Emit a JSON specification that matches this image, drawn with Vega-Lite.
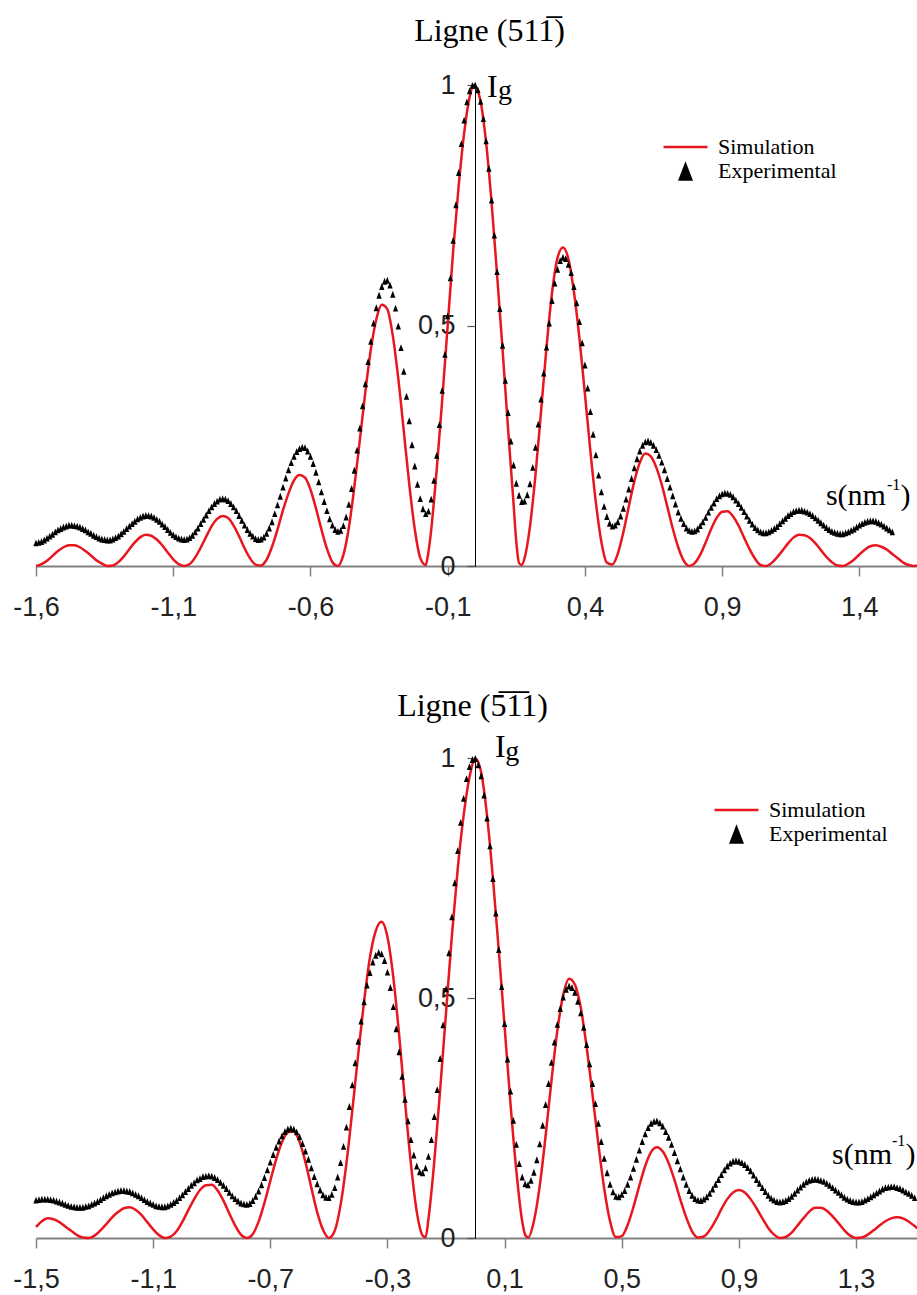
{
"$schema": "https://vega.github.io/schema/vega-lite/v6.json",
"background": "white",
"padding": {"left": 12, "top": 15, "right": 0, "bottom": 0},
"config": {"view": {"stroke": null}, "axis": {"grid": false}},
"spacing": 70,
"resolve": {"scale": {"color": "independent", "shape": "independent"}, "legend": {"color": "independent", "shape": "independent"}},
"datasets": {
"simA": [{"x":-1.6,"y":0},{"x":-1.58,"y":0.004},{"x":-1.56,"y":0.011},{"x":-1.54,"y":0.021},{"x":-1.52,"y":0.031},{"x":-1.5,"y":0.039},{"x":-1.48,"y":0.043},{"x":-1.46,"y":0.043},{"x":-1.44,"y":0.039},{"x":-1.42,"y":0.031},{"x":-1.4,"y":0.022},{"x":-1.38,"y":0.012},{"x":-1.36,"y":0.005},{"x":-1.34,"y":0},{"x":-1.32,"y":0.001},{"x":-1.3,"y":0.008},{"x":-1.28,"y":0.02},{"x":-1.26,"y":0.035},{"x":-1.24,"y":0.049},{"x":-1.22,"y":0.06},{"x":-1.2,"y":0.065},{"x":-1.18,"y":0.063},{"x":-1.16,"y":0.055},{"x":-1.14,"y":0.043},{"x":-1.12,"y":0.028},{"x":-1.1,"y":0.014},{"x":-1.08,"y":0.004},{"x":-1.06,"y":0},{"x":-1.04,"y":0.004},{"x":-1.02,"y":0.018},{"x":-1,"y":0.038},{"x":-0.98,"y":0.061},{"x":-0.96,"y":0.083},{"x":-0.94,"y":0.098},{"x":-0.92,"y":0.104},{"x":-0.9,"y":0.1},{"x":-0.88,"y":0.084},{"x":-0.86,"y":0.062},{"x":-0.84,"y":0.037},{"x":-0.82,"y":0.016},{"x":-0.8,"y":0.003},{"x":-0.78,"y":0.001},{"x":-0.76,"y":0.013},{"x":-0.74,"y":0.04},{"x":-0.72,"y":0.076},{"x":-0.7,"y":0.116},{"x":-0.68,"y":0.151},{"x":-0.66,"y":0.178},{"x":-0.64,"y":0.189},{"x":-0.62,"y":0.184},{"x":-0.6,"y":0.159},{"x":-0.58,"y":0.12},{"x":-0.56,"y":0.076},{"x":-0.54,"y":0.036},{"x":-0.52,"y":0.008},{"x":-0.5,"y":0},{"x":-0.48,"y":0.023},{"x":-0.46,"y":0.08},{"x":-0.44,"y":0.165},{"x":-0.42,"y":0.262},{"x":-0.4,"y":0.362},{"x":-0.38,"y":0.45},{"x":-0.36,"y":0.513},{"x":-0.34,"y":0.543},{"x":-0.32,"y":0.534},{"x":-0.3,"y":0.479},{"x":-0.28,"y":0.39},{"x":-0.26,"y":0.281},{"x":-0.24,"y":0.17},{"x":-0.22,"y":0.077},{"x":-0.2,"y":0.017},{"x":-0.18,"y":0.002},{"x":-0.17,"y":0.03},{"x":-0.16,"y":0.075},{"x":-0.15,"y":0.135},{"x":-0.14,"y":0.2},{"x":-0.12,"y":0.345},{"x":-0.1,"y":0.5},{"x":-0.08,"y":0.655},{"x":-0.06,"y":0.79},{"x":-0.04,"y":0.9},{"x":-0.02,"y":0.975},{"x":-0.005,"y":1},{"x":0.02,"y":0.965},{"x":0.04,"y":0.88},{"x":0.06,"y":0.755},{"x":0.08,"y":0.605},{"x":0.1,"y":0.45},{"x":0.12,"y":0.285},{"x":0.14,"y":0.13},{"x":0.15,"y":0.05},{"x":0.16,"y":0.006},{"x":0.17,"y":0.002},{"x":0.18,"y":0.016},{"x":0.2,"y":0.083},{"x":0.22,"y":0.19},{"x":0.24,"y":0.32},{"x":0.26,"y":0.454},{"x":0.28,"y":0.567},{"x":0.3,"y":0.64},{"x":0.32,"y":0.662},{"x":0.34,"y":0.638},{"x":0.36,"y":0.57},{"x":0.38,"y":0.474},{"x":0.4,"y":0.358},{"x":0.42,"y":0.239},{"x":0.44,"y":0.132},{"x":0.46,"y":0.05},{"x":0.48,"y":0.007},{"x":0.5,"y":0.003},{"x":0.52,"y":0.026},{"x":0.54,"y":0.07},{"x":0.56,"y":0.124},{"x":0.58,"y":0.176},{"x":0.6,"y":0.215},{"x":0.62,"y":0.234},{"x":0.64,"y":0.228},{"x":0.66,"y":0.205},{"x":0.68,"y":0.169},{"x":0.7,"y":0.124},{"x":0.72,"y":0.078},{"x":0.74,"y":0.039},{"x":0.76,"y":0.011},{"x":0.78,"y":0},{"x":0.8,"y":0.006},{"x":0.82,"y":0.023},{"x":0.84,"y":0.049},{"x":0.86,"y":0.077},{"x":0.88,"y":0.1},{"x":0.9,"y":0.113},{"x":0.92,"y":0.114},{"x":0.94,"y":0.103},{"x":0.96,"y":0.084},{"x":0.98,"y":0.059},{"x":1,"y":0.035},{"x":1.02,"y":0.015},{"x":1.04,"y":0.002},{"x":1.06,"y":0},{"x":1.08,"y":0.006},{"x":1.1,"y":0.018},{"x":1.12,"y":0.032},{"x":1.14,"y":0.047},{"x":1.16,"y":0.059},{"x":1.18,"y":0.065},{"x":1.2,"y":0.064},{"x":1.22,"y":0.058},{"x":1.24,"y":0.047},{"x":1.26,"y":0.033},{"x":1.28,"y":0.019},{"x":1.3,"y":0.008},{"x":1.32,"y":0.001},{"x":1.34,"y":0},{"x":1.36,"y":0.005},{"x":1.38,"y":0.013},{"x":1.4,"y":0.024},{"x":1.42,"y":0.034},{"x":1.44,"y":0.041},{"x":1.46,"y":0.043},{"x":1.48,"y":0.04},{"x":1.5,"y":0.034},{"x":1.52,"y":0.025},{"x":1.54,"y":0.016},{"x":1.56,"y":0.007},{"x":1.58,"y":0.002},{"x":1.6,"y":0},{"x":1.61,"y":0.001}],
"expA": [{"x":-1.6,"y":0.048},{"x":-1.59,"y":0.049},{"x":-1.58,"y":0.051},{"x":-1.57,"y":0.054},{"x":-1.56,"y":0.058},{"x":-1.55,"y":0.062},{"x":-1.54,"y":0.066},{"x":-1.53,"y":0.071},{"x":-1.52,"y":0.075},{"x":-1.51,"y":0.078},{"x":-1.5,"y":0.081},{"x":-1.49,"y":0.083},{"x":-1.48,"y":0.085},{"x":-1.47,"y":0.085},{"x":-1.46,"y":0.084},{"x":-1.45,"y":0.083},{"x":-1.44,"y":0.081},{"x":-1.43,"y":0.078},{"x":-1.42,"y":0.075},{"x":-1.41,"y":0.071},{"x":-1.4,"y":0.068},{"x":-1.39,"y":0.064},{"x":-1.38,"y":0.061},{"x":-1.37,"y":0.058},{"x":-1.36,"y":0.056},{"x":-1.35,"y":0.055},{"x":-1.34,"y":0.054},{"x":-1.33,"y":0.054},{"x":-1.32,"y":0.056},{"x":-1.31,"y":0.059},{"x":-1.3,"y":0.062},{"x":-1.29,"y":0.067},{"x":-1.28,"y":0.072},{"x":-1.27,"y":0.078},{"x":-1.26,"y":0.083},{"x":-1.25,"y":0.088},{"x":-1.24,"y":0.093},{"x":-1.23,"y":0.098},{"x":-1.22,"y":0.101},{"x":-1.21,"y":0.104},{"x":-1.2,"y":0.105},{"x":-1.19,"y":0.105},{"x":-1.18,"y":0.104},{"x":-1.17,"y":0.101},{"x":-1.16,"y":0.097},{"x":-1.15,"y":0.093},{"x":-1.14,"y":0.087},{"x":-1.13,"y":0.082},{"x":-1.12,"y":0.076},{"x":-1.11,"y":0.07},{"x":-1.1,"y":0.065},{"x":-1.09,"y":0.061},{"x":-1.08,"y":0.058},{"x":-1.07,"y":0.056},{"x":-1.06,"y":0.055},{"x":-1.05,"y":0.056},{"x":-1.04,"y":0.059},{"x":-1.03,"y":0.064},{"x":-1.02,"y":0.071},{"x":-1.01,"y":0.079},{"x":-1,"y":0.088},{"x":-0.99,"y":0.097},{"x":-0.98,"y":0.106},{"x":-0.97,"y":0.115},{"x":-0.96,"y":0.123},{"x":-0.95,"y":0.13},{"x":-0.94,"y":0.135},{"x":-0.93,"y":0.139},{"x":-0.92,"y":0.14},{"x":-0.91,"y":0.139},{"x":-0.9,"y":0.136},{"x":-0.89,"y":0.13},{"x":-0.88,"y":0.123},{"x":-0.87,"y":0.115},{"x":-0.86,"y":0.105},{"x":-0.85,"y":0.095},{"x":-0.84,"y":0.085},{"x":-0.83,"y":0.076},{"x":-0.82,"y":0.068},{"x":-0.81,"y":0.062},{"x":-0.8,"y":0.057},{"x":-0.79,"y":0.055},{"x":-0.78,"y":0.056},{"x":-0.77,"y":0.06},{"x":-0.76,"y":0.068},{"x":-0.75,"y":0.079},{"x":-0.74,"y":0.092},{"x":-0.73,"y":0.109},{"x":-0.72,"y":0.127},{"x":-0.71,"y":0.145},{"x":-0.7,"y":0.164},{"x":-0.69,"y":0.183},{"x":-0.68,"y":0.2},{"x":-0.67,"y":0.215},{"x":-0.66,"y":0.228},{"x":-0.65,"y":0.238},{"x":-0.64,"y":0.244},{"x":-0.63,"y":0.247},{"x":-0.62,"y":0.246},{"x":-0.61,"y":0.239},{"x":-0.6,"y":0.228},{"x":-0.59,"y":0.213},{"x":-0.58,"y":0.195},{"x":-0.57,"y":0.175},{"x":-0.56,"y":0.154},{"x":-0.55,"y":0.134},{"x":-0.54,"y":0.115},{"x":-0.53,"y":0.098},{"x":-0.52,"y":0.085},{"x":-0.51,"y":0.076},{"x":-0.5,"y":0.072},{"x":-0.49,"y":0.074},{"x":-0.48,"y":0.084},{"x":-0.47,"y":0.102},{"x":-0.46,"y":0.128},{"x":-0.45,"y":0.161},{"x":-0.44,"y":0.199},{"x":-0.43,"y":0.241},{"x":-0.42,"y":0.287},{"x":-0.41,"y":0.333},{"x":-0.4,"y":0.379},{"x":-0.39,"y":0.425},{"x":-0.38,"y":0.467},{"x":-0.37,"y":0.505},{"x":-0.36,"y":0.537},{"x":-0.35,"y":0.563},{"x":-0.34,"y":0.581},{"x":-0.33,"y":0.592},{"x":-0.32,"y":0.594},{"x":-0.31,"y":0.584},{"x":-0.3,"y":0.565},{"x":-0.29,"y":0.536},{"x":-0.28,"y":0.499},{"x":-0.27,"y":0.454},{"x":-0.26,"y":0.405},{"x":-0.25,"y":0.353},{"x":-0.24,"y":0.302},{"x":-0.23,"y":0.252},{"x":-0.22,"y":0.208},{"x":-0.21,"y":0.17},{"x":-0.2,"y":0.14},{"x":-0.19,"y":0.119},{"x":-0.18,"y":0.109},{"x":-0.17,"y":0.114},{"x":-0.16,"y":0.139},{"x":-0.15,"y":0.178},{"x":-0.14,"y":0.23},{"x":-0.13,"y":0.294},{"x":-0.12,"y":0.365},{"x":-0.11,"y":0.44},{"x":-0.1,"y":0.52},{"x":-0.09,"y":0.599},{"x":-0.08,"y":0.677},{"x":-0.07,"y":0.751},{"x":-0.06,"y":0.818},{"x":-0.05,"y":0.878},{"x":-0.04,"y":0.927},{"x":-0.03,"y":0.965},{"x":-0.02,"y":0.988},{"x":-0.01,"y":0.999},{"x":0,"y":1},{"x":0.01,"y":0.99},{"x":0.02,"y":0.966},{"x":0.03,"y":0.93},{"x":0.04,"y":0.884},{"x":0.05,"y":0.827},{"x":0.06,"y":0.761},{"x":0.07,"y":0.688},{"x":0.08,"y":0.612},{"x":0.09,"y":0.535},{"x":0.1,"y":0.459},{"x":0.11,"y":0.386},{"x":0.12,"y":0.319},{"x":0.13,"y":0.26},{"x":0.14,"y":0.21},{"x":0.15,"y":0.172},{"x":0.16,"y":0.147},{"x":0.17,"y":0.134},{"x":0.18,"y":0.135},{"x":0.19,"y":0.148},{"x":0.2,"y":0.171},{"x":0.21,"y":0.205},{"x":0.22,"y":0.247},{"x":0.23,"y":0.295},{"x":0.24,"y":0.347},{"x":0.25,"y":0.401},{"x":0.26,"y":0.455},{"x":0.27,"y":0.505},{"x":0.28,"y":0.552},{"x":0.29,"y":0.588},{"x":0.3,"y":0.617},{"x":0.31,"y":0.635},{"x":0.32,"y":0.642},{"x":0.33,"y":0.639},{"x":0.34,"y":0.627},{"x":0.35,"y":0.61},{"x":0.36,"y":0.581},{"x":0.37,"y":0.547},{"x":0.38,"y":0.508},{"x":0.39,"y":0.464},{"x":0.4,"y":0.418},{"x":0.41,"y":0.37},{"x":0.42,"y":0.321},{"x":0.43,"y":0.274},{"x":0.44,"y":0.231},{"x":0.45,"y":0.189},{"x":0.46,"y":0.154},{"x":0.47,"y":0.124},{"x":0.48,"y":0.103},{"x":0.49,"y":0.089},{"x":0.5,"y":0.083},{"x":0.51,"y":0.085},{"x":0.52,"y":0.092},{"x":0.53,"y":0.104},{"x":0.54,"y":0.12},{"x":0.55,"y":0.139},{"x":0.56,"y":0.16},{"x":0.57,"y":0.182},{"x":0.58,"y":0.204},{"x":0.59,"y":0.223},{"x":0.6,"y":0.239},{"x":0.61,"y":0.251},{"x":0.62,"y":0.258},{"x":0.63,"y":0.26},{"x":0.64,"y":0.257},{"x":0.65,"y":0.251},{"x":0.66,"y":0.242},{"x":0.67,"y":0.23},{"x":0.68,"y":0.216},{"x":0.69,"y":0.2},{"x":0.7,"y":0.182},{"x":0.71,"y":0.164},{"x":0.72,"y":0.146},{"x":0.73,"y":0.129},{"x":0.74,"y":0.112},{"x":0.75,"y":0.099},{"x":0.76,"y":0.088},{"x":0.77,"y":0.079},{"x":0.78,"y":0.074},{"x":0.79,"y":0.072},{"x":0.8,"y":0.073},{"x":0.81,"y":0.077},{"x":0.82,"y":0.084},{"x":0.83,"y":0.092},{"x":0.84,"y":0.101},{"x":0.85,"y":0.112},{"x":0.86,"y":0.122},{"x":0.87,"y":0.131},{"x":0.88,"y":0.14},{"x":0.89,"y":0.146},{"x":0.9,"y":0.15},{"x":0.91,"y":0.152},{"x":0.92,"y":0.151},{"x":0.93,"y":0.149},{"x":0.94,"y":0.144},{"x":0.95,"y":0.137},{"x":0.96,"y":0.13},{"x":0.97,"y":0.122},{"x":0.98,"y":0.113},{"x":0.99,"y":0.104},{"x":1,"y":0.095},{"x":1.01,"y":0.087},{"x":1.02,"y":0.08},{"x":1.03,"y":0.075},{"x":1.04,"y":0.071},{"x":1.05,"y":0.069},{"x":1.06,"y":0.069},{"x":1.07,"y":0.071},{"x":1.08,"y":0.074},{"x":1.09,"y":0.078},{"x":1.1,"y":0.082},{"x":1.11,"y":0.088},{"x":1.12,"y":0.094},{"x":1.13,"y":0.099},{"x":1.14,"y":0.105},{"x":1.15,"y":0.109},{"x":1.16,"y":0.113},{"x":1.17,"y":0.115},{"x":1.18,"y":0.116},{"x":1.19,"y":0.116},{"x":1.2,"y":0.114},{"x":1.21,"y":0.112},{"x":1.22,"y":0.109},{"x":1.23,"y":0.105},{"x":1.24,"y":0.1},{"x":1.25,"y":0.095},{"x":1.26,"y":0.09},{"x":1.27,"y":0.085},{"x":1.28,"y":0.08},{"x":1.29,"y":0.076},{"x":1.3,"y":0.072},{"x":1.31,"y":0.07},{"x":1.32,"y":0.068},{"x":1.33,"y":0.067},{"x":1.34,"y":0.067},{"x":1.35,"y":0.069},{"x":1.36,"y":0.071},{"x":1.37,"y":0.074},{"x":1.38,"y":0.077},{"x":1.39,"y":0.081},{"x":1.4,"y":0.085},{"x":1.41,"y":0.088},{"x":1.42,"y":0.091},{"x":1.43,"y":0.093},{"x":1.44,"y":0.094},{"x":1.45,"y":0.094},{"x":1.46,"y":0.093},{"x":1.47,"y":0.09},{"x":1.48,"y":0.087},{"x":1.49,"y":0.083},{"x":1.5,"y":0.079},{"x":1.51,"y":0.075},{"x":1.52,"y":0.071}],
"simB": [{"x":-1.5,"y":0.023},{"x":-1.48,"y":0.035},{"x":-1.46,"y":0.041},{"x":-1.44,"y":0.039},{"x":-1.42,"y":0.033},{"x":-1.4,"y":0.024},{"x":-1.38,"y":0.015},{"x":-1.36,"y":0.006},{"x":-1.34,"y":0.001},{"x":-1.32,"y":0},{"x":-1.3,"y":0.005},{"x":-1.28,"y":0.016},{"x":-1.26,"y":0.029},{"x":-1.24,"y":0.043},{"x":-1.22,"y":0.054},{"x":-1.2,"y":0.062},{"x":-1.18,"y":0.064},{"x":-1.16,"y":0.059},{"x":-1.14,"y":0.048},{"x":-1.12,"y":0.033},{"x":-1.1,"y":0.018},{"x":-1.08,"y":0.006},{"x":-1.06,"y":0},{"x":-1.04,"y":0.003},{"x":-1.02,"y":0.014},{"x":-1,"y":0.034},{"x":-0.98,"y":0.058},{"x":-0.96,"y":0.081},{"x":-0.94,"y":0.1},{"x":-0.92,"y":0.11},{"x":-0.9,"y":0.111},{"x":-0.88,"y":0.099},{"x":-0.86,"y":0.078},{"x":-0.84,"y":0.051},{"x":-0.82,"y":0.026},{"x":-0.8,"y":0.007},{"x":-0.78,"y":0},{"x":-0.76,"y":0.008},{"x":-0.74,"y":0.034},{"x":-0.72,"y":0.073},{"x":-0.7,"y":0.119},{"x":-0.68,"y":0.164},{"x":-0.66,"y":0.2},{"x":-0.64,"y":0.22},{"x":-0.62,"y":0.222},{"x":-0.6,"y":0.2},{"x":-0.58,"y":0.158},{"x":-0.56,"y":0.105},{"x":-0.54,"y":0.054},{"x":-0.52,"y":0.017},{"x":-0.5,"y":0},{"x":-0.48,"y":0.015},{"x":-0.46,"y":0.069},{"x":-0.44,"y":0.156},{"x":-0.42,"y":0.266},{"x":-0.4,"y":0.382},{"x":-0.38,"y":0.492},{"x":-0.36,"y":0.584},{"x":-0.34,"y":0.64},{"x":-0.32,"y":0.659},{"x":-0.3,"y":0.627},{"x":-0.28,"y":0.543},{"x":-0.26,"y":0.422},{"x":-0.24,"y":0.284},{"x":-0.22,"y":0.155},{"x":-0.2,"y":0.055},{"x":-0.18,"y":0.005},{"x":-0.17,"y":0.001},{"x":-0.16,"y":0.04},{"x":-0.14,"y":0.16},{"x":-0.12,"y":0.31},{"x":-0.1,"y":0.47},{"x":-0.08,"y":0.63},{"x":-0.06,"y":0.77},{"x":-0.04,"y":0.88},{"x":-0.02,"y":0.96},{"x":0,"y":0.999},{"x":0.02,"y":0.97},{"x":0.04,"y":0.88},{"x":0.06,"y":0.75},{"x":0.08,"y":0.6},{"x":0.1,"y":0.44},{"x":0.12,"y":0.28},{"x":0.14,"y":0.14},{"x":0.16,"y":0.035},{"x":0.17,"y":0.007},{"x":0.18,"y":0.001},{"x":0.2,"y":0.035},{"x":0.22,"y":0.109},{"x":0.24,"y":0.213},{"x":0.26,"y":0.328},{"x":0.28,"y":0.432},{"x":0.3,"y":0.506},{"x":0.32,"y":0.54},{"x":0.34,"y":0.528},{"x":0.36,"y":0.48},{"x":0.38,"y":0.398},{"x":0.4,"y":0.299},{"x":0.42,"y":0.196},{"x":0.44,"y":0.103},{"x":0.46,"y":0.035},{"x":0.48,"y":0.002},{"x":0.5,"y":0.004},{"x":0.52,"y":0.027},{"x":0.54,"y":0.065},{"x":0.56,"y":0.109},{"x":0.58,"y":0.15},{"x":0.6,"y":0.179},{"x":0.62,"y":0.189},{"x":0.64,"y":0.18},{"x":0.66,"y":0.156},{"x":0.68,"y":0.121},{"x":0.7,"y":0.08},{"x":0.72,"y":0.043},{"x":0.74,"y":0.014},{"x":0.76,"y":0.001},{"x":0.78,"y":0.003},{"x":0.8,"y":0.016},{"x":0.82,"y":0.036},{"x":0.84,"y":0.06},{"x":0.86,"y":0.081},{"x":0.88,"y":0.095},{"x":0.9,"y":0.1},{"x":0.92,"y":0.095},{"x":0.94,"y":0.081},{"x":0.96,"y":0.062},{"x":0.98,"y":0.041},{"x":1,"y":0.021},{"x":1.02,"y":0.007},{"x":1.04,"y":0},{"x":1.06,"y":0.002},{"x":1.08,"y":0.011},{"x":1.1,"y":0.026},{"x":1.12,"y":0.041},{"x":1.14,"y":0.055},{"x":1.16,"y":0.063},{"x":1.18,"y":0.063},{"x":1.2,"y":0.057},{"x":1.22,"y":0.045},{"x":1.24,"y":0.031},{"x":1.26,"y":0.016},{"x":1.28,"y":0.005},{"x":1.3,"y":0},{"x":1.32,"y":0.001},{"x":1.34,"y":0.007},{"x":1.36,"y":0.016},{"x":1.38,"y":0.026},{"x":1.4,"y":0.035},{"x":1.42,"y":0.041},{"x":1.44,"y":0.043},{"x":1.46,"y":0.041},{"x":1.48,"y":0.034},{"x":1.5,"y":0.025},{"x":1.51,"y":0.02}],
"expB": [{"x":-1.5,"y":0.079},{"x":-1.49,"y":0.08},{"x":-1.48,"y":0.081},{"x":-1.47,"y":0.081},{"x":-1.46,"y":0.081},{"x":-1.45,"y":0.08},{"x":-1.44,"y":0.079},{"x":-1.43,"y":0.077},{"x":-1.42,"y":0.075},{"x":-1.41,"y":0.073},{"x":-1.4,"y":0.07},{"x":-1.39,"y":0.068},{"x":-1.38,"y":0.066},{"x":-1.37,"y":0.065},{"x":-1.36,"y":0.064},{"x":-1.35,"y":0.064},{"x":-1.34,"y":0.064},{"x":-1.33,"y":0.066},{"x":-1.32,"y":0.067},{"x":-1.31,"y":0.07},{"x":-1.3,"y":0.073},{"x":-1.29,"y":0.076},{"x":-1.28,"y":0.08},{"x":-1.27,"y":0.084},{"x":-1.26,"y":0.088},{"x":-1.25,"y":0.091},{"x":-1.24,"y":0.094},{"x":-1.23,"y":0.096},{"x":-1.22,"y":0.098},{"x":-1.21,"y":0.099},{"x":-1.2,"y":0.099},{"x":-1.19,"y":0.098},{"x":-1.18,"y":0.097},{"x":-1.17,"y":0.094},{"x":-1.16,"y":0.091},{"x":-1.15,"y":0.088},{"x":-1.14,"y":0.084},{"x":-1.13,"y":0.08},{"x":-1.12,"y":0.076},{"x":-1.11,"y":0.073},{"x":-1.1,"y":0.07},{"x":-1.09,"y":0.067},{"x":-1.08,"y":0.066},{"x":-1.07,"y":0.065},{"x":-1.06,"y":0.065},{"x":-1.05,"y":0.067},{"x":-1.04,"y":0.07},{"x":-1.03,"y":0.074},{"x":-1.02,"y":0.078},{"x":-1.01,"y":0.084},{"x":-1,"y":0.09},{"x":-0.99,"y":0.097},{"x":-0.98,"y":0.103},{"x":-0.97,"y":0.11},{"x":-0.96,"y":0.115},{"x":-0.95,"y":0.121},{"x":-0.94,"y":0.124},{"x":-0.93,"y":0.128},{"x":-0.92,"y":0.129},{"x":-0.91,"y":0.13},{"x":-0.9,"y":0.129},{"x":-0.89,"y":0.126},{"x":-0.88,"y":0.122},{"x":-0.87,"y":0.116},{"x":-0.86,"y":0.11},{"x":-0.85,"y":0.103},{"x":-0.84,"y":0.095},{"x":-0.83,"y":0.088},{"x":-0.82,"y":0.082},{"x":-0.81,"y":0.077},{"x":-0.8,"y":0.073},{"x":-0.79,"y":0.071},{"x":-0.78,"y":0.07},{"x":-0.77,"y":0.072},{"x":-0.76,"y":0.078},{"x":-0.75,"y":0.087},{"x":-0.74,"y":0.098},{"x":-0.73,"y":0.111},{"x":-0.72,"y":0.126},{"x":-0.71,"y":0.142},{"x":-0.7,"y":0.158},{"x":-0.69,"y":0.174},{"x":-0.68,"y":0.189},{"x":-0.67,"y":0.202},{"x":-0.66,"y":0.213},{"x":-0.65,"y":0.222},{"x":-0.64,"y":0.227},{"x":-0.63,"y":0.229},{"x":-0.62,"y":0.227},{"x":-0.61,"y":0.221},{"x":-0.6,"y":0.211},{"x":-0.59,"y":0.197},{"x":-0.58,"y":0.181},{"x":-0.57,"y":0.164},{"x":-0.56,"y":0.146},{"x":-0.55,"y":0.128},{"x":-0.54,"y":0.113},{"x":-0.53,"y":0.1},{"x":-0.52,"y":0.09},{"x":-0.51,"y":0.085},{"x":-0.5,"y":0.084},{"x":-0.49,"y":0.091},{"x":-0.48,"y":0.105},{"x":-0.47,"y":0.127},{"x":-0.46,"y":0.157},{"x":-0.45,"y":0.191},{"x":-0.44,"y":0.231},{"x":-0.43,"y":0.274},{"x":-0.42,"y":0.319},{"x":-0.41,"y":0.365},{"x":-0.4,"y":0.41},{"x":-0.39,"y":0.452},{"x":-0.38,"y":0.492},{"x":-0.37,"y":0.527},{"x":-0.36,"y":0.553},{"x":-0.35,"y":0.575},{"x":-0.34,"y":0.589},{"x":-0.33,"y":0.595},{"x":-0.32,"y":0.592},{"x":-0.31,"y":0.578},{"x":-0.3,"y":0.554},{"x":-0.29,"y":0.522},{"x":-0.28,"y":0.482},{"x":-0.27,"y":0.436},{"x":-0.26,"y":0.388},{"x":-0.25,"y":0.337},{"x":-0.24,"y":0.289},{"x":-0.23,"y":0.244},{"x":-0.22,"y":0.205},{"x":-0.21,"y":0.173},{"x":-0.2,"y":0.15},{"x":-0.19,"y":0.138},{"x":-0.18,"y":0.136},{"x":-0.17,"y":0.146},{"x":-0.16,"y":0.17},{"x":-0.15,"y":0.205},{"x":-0.14,"y":0.253},{"x":-0.13,"y":0.309},{"x":-0.12,"y":0.374},{"x":-0.11,"y":0.444},{"x":-0.1,"y":0.519},{"x":-0.09,"y":0.594},{"x":-0.08,"y":0.669},{"x":-0.07,"y":0.74},{"x":-0.06,"y":0.807},{"x":-0.05,"y":0.866},{"x":-0.04,"y":0.916},{"x":-0.03,"y":0.957},{"x":-0.02,"y":0.982},{"x":-0.01,"y":0.997},{"x":0,"y":0.999},{"x":0.01,"y":0.986},{"x":0.02,"y":0.963},{"x":0.03,"y":0.923},{"x":0.04,"y":0.875},{"x":0.05,"y":0.817},{"x":0.06,"y":0.749},{"x":0.07,"y":0.677},{"x":0.08,"y":0.601},{"x":0.09,"y":0.524},{"x":0.1,"y":0.447},{"x":0.11,"y":0.373},{"x":0.12,"y":0.306},{"x":0.13,"y":0.245},{"x":0.14,"y":0.195},{"x":0.15,"y":0.155},{"x":0.16,"y":0.127},{"x":0.17,"y":0.113},{"x":0.18,"y":0.111},{"x":0.19,"y":0.12},{"x":0.2,"y":0.137},{"x":0.21,"y":0.163},{"x":0.22,"y":0.196},{"x":0.23,"y":0.235},{"x":0.24,"y":0.278},{"x":0.25,"y":0.322},{"x":0.26,"y":0.366},{"x":0.27,"y":0.408},{"x":0.28,"y":0.445},{"x":0.29,"y":0.478},{"x":0.3,"y":0.502},{"x":0.31,"y":0.518},{"x":0.32,"y":0.525},{"x":0.33,"y":0.522},{"x":0.34,"y":0.512},{"x":0.35,"y":0.493},{"x":0.36,"y":0.469},{"x":0.37,"y":0.439},{"x":0.38,"y":0.403},{"x":0.39,"y":0.363},{"x":0.4,"y":0.322},{"x":0.41,"y":0.28},{"x":0.42,"y":0.239},{"x":0.43,"y":0.201},{"x":0.44,"y":0.166},{"x":0.45,"y":0.136},{"x":0.46,"y":0.112},{"x":0.47,"y":0.096},{"x":0.48,"y":0.087},{"x":0.49,"y":0.086},{"x":0.5,"y":0.091},{"x":0.51,"y":0.099},{"x":0.52,"y":0.112},{"x":0.53,"y":0.127},{"x":0.54,"y":0.145},{"x":0.55,"y":0.164},{"x":0.56,"y":0.183},{"x":0.57,"y":0.201},{"x":0.58,"y":0.217},{"x":0.59,"y":0.23},{"x":0.6,"y":0.239},{"x":0.61,"y":0.243},{"x":0.62,"y":0.244},{"x":0.63,"y":0.24},{"x":0.64,"y":0.233},{"x":0.65,"y":0.222},{"x":0.66,"y":0.21},{"x":0.67,"y":0.195},{"x":0.68,"y":0.178},{"x":0.69,"y":0.161},{"x":0.7,"y":0.144},{"x":0.71,"y":0.127},{"x":0.72,"y":0.112},{"x":0.73,"y":0.099},{"x":0.74,"y":0.089},{"x":0.75,"y":0.082},{"x":0.76,"y":0.079},{"x":0.77,"y":0.078},{"x":0.78,"y":0.081},{"x":0.79,"y":0.086},{"x":0.8,"y":0.093},{"x":0.81,"y":0.102},{"x":0.82,"y":0.112},{"x":0.83,"y":0.122},{"x":0.84,"y":0.132},{"x":0.85,"y":0.142},{"x":0.86,"y":0.15},{"x":0.87,"y":0.156},{"x":0.88,"y":0.16},{"x":0.89,"y":0.161},{"x":0.9,"y":0.16},{"x":0.91,"y":0.157},{"x":0.92,"y":0.153},{"x":0.93,"y":0.147},{"x":0.94,"y":0.14},{"x":0.95,"y":0.131},{"x":0.96,"y":0.122},{"x":0.97,"y":0.114},{"x":0.98,"y":0.105},{"x":0.99,"y":0.097},{"x":1,"y":0.089},{"x":1.01,"y":0.083},{"x":1.02,"y":0.079},{"x":1.03,"y":0.076},{"x":1.04,"y":0.075},{"x":1.05,"y":0.076},{"x":1.06,"y":0.078},{"x":1.07,"y":0.082},{"x":1.08,"y":0.087},{"x":1.09,"y":0.093},{"x":1.1,"y":0.1},{"x":1.11,"y":0.106},{"x":1.12,"y":0.112},{"x":1.13,"y":0.117},{"x":1.14,"y":0.12},{"x":1.15,"y":0.122},{"x":1.16,"y":0.123},{"x":1.17,"y":0.122},{"x":1.18,"y":0.12},{"x":1.19,"y":0.118},{"x":1.2,"y":0.114},{"x":1.21,"y":0.11},{"x":1.22,"y":0.105},{"x":1.23,"y":0.1},{"x":1.24,"y":0.095},{"x":1.25,"y":0.09},{"x":1.26,"y":0.085},{"x":1.27,"y":0.081},{"x":1.28,"y":0.078},{"x":1.29,"y":0.076},{"x":1.3,"y":0.075},{"x":1.31,"y":0.075},{"x":1.32,"y":0.076},{"x":1.33,"y":0.079},{"x":1.34,"y":0.082},{"x":1.35,"y":0.086},{"x":1.36,"y":0.09},{"x":1.37,"y":0.094},{"x":1.38,"y":0.098},{"x":1.39,"y":0.102},{"x":1.4,"y":0.105},{"x":1.41,"y":0.106},{"x":1.42,"y":0.107},{"x":1.43,"y":0.107},{"x":1.44,"y":0.105},{"x":1.45,"y":0.103},{"x":1.46,"y":0.1},{"x":1.47,"y":0.096},{"x":1.48,"y":0.093},{"x":1.49,"y":0.089},{"x":1.5,"y":0.084}]
},
"vconcat": [
{
"width": 881, "height": 481,
"title": {"text": "Ligne (511\u0305)", "font": "Liberation Serif", "fontSize": 32, "fontWeight": "normal", "color": "black", "anchor": "middle", "frame": "group", "offset": 23, "dx": 13},
"layer": [
{"data": {"name": "simA"}, "mark": {"type": "line", "color": "#e8161e", "strokeWidth": 2.5, "interpolate": "monotone"},
 "encoding": {
  "x": {"field": "x", "type": "quantitative", "scale": {"domain": [-1.6, 1.61], "nice": false, "zero": false},
        "axis": {"values": [-1.6, -1.1, -0.6, -0.1, 0.4, 0.9, 1.4], "labelExpr": "(datum.value < 0 ? '-' : '') + replace(format(abs(datum.value), '.1f'), '.', ',')", "title": null, "grid": false, "domainColor": "#808080", "domainWidth": 2, "tickColor": "#808080", "tickWidth": 1.5, "tickSize": 10, "labelFont": "Liberation Sans", "labelFontSize": 27, "labelColor": "#222222", "labelPadding": 18, "labelFlush": false, "labelOverlap": false}},
  "y": {"field": "y", "type": "quantitative", "scale": {"domain": [0, 1], "nice": false},
        "axis": {"values": [0, 0.5, 1], "offset": -439, "labelExpr": "replace(format(datum.value, '~g'), '.', ',')", "title": null, "grid": false, "domainColor": "black", "domainWidth": 1, "tickColor": "#555555", "tickWidth": 1.2, "tickSize": 8, "labelFont": "Liberation Sans", "labelFontSize": 27, "labelColor": "#222222", "labelPadding": 12, "labelOverlap": false, "labelFlush": false}}
 }},
{"data": {"name": "expA"}, "mark": {"type": "point", "filled": true, "size": 28, "opacity": 1, "strokeWidth": 0},
 "encoding": {
  "x": {"field": "x", "type": "quantitative"},
  "y": {"field": "y", "type": "quantitative"},
  "color": {"datum": "Experimental", "scale": {"domain": ["Simulation", "Experimental"], "range": ["#e8161e", "#000000"]},
            "legend": {"title": null, "orient": "none", "legendX": 638.5, "legendY": 51, "symbolSize": 225, "symbolOpacity": 1, "symbolStrokeWidth": 0, "labelFont": "Liberation Serif", "labelFontSize": 22, "labelColor": "black", "labelOffset": 21.5, "rowPadding": 2, "padding": 0}},
  "shape": {"datum": "Experimental", "scale": {"domain": ["Simulation", "Experimental"], "range": ["M-2.93,-0.17H2.93V0.17H-2.93Z", "M0,-1.3L1,1.3L-1,1.3Z"]},
            "legend": {"title": null, "orient": "none", "legendX": 638.5, "legendY": 51, "symbolSize": 225, "symbolOpacity": 1, "symbolStrokeWidth": 0, "labelFont": "Liberation Serif", "labelFontSize": 22, "labelColor": "black", "labelOffset": 21.5, "rowPadding": 2, "padding": 0}}
 }},
{"data": {"values": [{}]}, "mark": {"type": "text", "text": "I", "font": "Liberation Serif", "fontSize": 32, "align": "left", "baseline": "alphabetic", "color": "black"},
 "encoding": {"x": {"datum": 0.043, "type": "quantitative"}, "y": {"datum": 0.975, "type": "quantitative"}}},
{"data": {"values": [{}]}, "mark": {"type": "text", "text": "g", "font": "Liberation Serif", "fontSize": 28, "align": "left", "baseline": "alphabetic", "color": "black"},
 "encoding": {"x": {"datum": 0.083, "type": "quantitative"}, "y": {"datum": 0.971, "type": "quantitative"}}},
{"data": {"values": [{}]}, "mark": {"type": "text", "text": "s(nm", "font": "Liberation Serif", "fontSize": 30, "align": "left", "baseline": "alphabetic", "color": "black"},
 "encoding": {"x": {"datum": 1.278, "type": "quantitative"}, "y": {"datum": 0.127, "type": "quantitative"}}},
{"data": {"values": [{}]}, "mark": {"type": "text", "text": "-1", "font": "Liberation Serif", "fontSize": 16, "align": "left", "baseline": "alphabetic", "color": "black"},
 "encoding": {"x": {"datum": 1.5005, "type": "quantitative"}, "y": {"datum": 0.158, "type": "quantitative"}}},
{"data": {"values": [{}]}, "mark": {"type": "text", "text": ")", "font": "Liberation Serif", "fontSize": 30, "align": "left", "baseline": "alphabetic", "color": "black"},
 "encoding": {"x": {"datum": 1.5496, "type": "quantitative"}, "y": {"datum": 0.127, "type": "quantitative"}}}
]
},
{
"width": 881, "height": 480,
"title": {"text": "Ligne (5\u03051\u03051)", "font": "Liberation Serif", "fontSize": 32, "fontWeight": "normal", "color": "black", "anchor": "middle", "frame": "group", "offset": 8, "dx": -4},
"layer": [
{"data": {"name": "simB"}, "mark": {"type": "line", "color": "#e8161e", "strokeWidth": 2.5, "interpolate": "monotone"},
 "encoding": {
  "x": {"field": "x", "type": "quantitative", "scale": {"domain": [-1.5, 1.508], "nice": false, "zero": false},
        "axis": {"values": [-1.5, -1.1, -0.7, -0.3, 0.1, 0.5, 0.9, 1.3], "labelExpr": "(datum.value < 0 ? '-' : '') + replace(format(abs(datum.value), '.1f'), '.', ',')", "title": null, "grid": false, "domainColor": "#808080", "domainWidth": 2, "tickColor": "#808080", "tickWidth": 1.5, "tickSize": 10, "labelFont": "Liberation Sans", "labelFontSize": 27, "labelColor": "#222222", "labelPadding": 18, "labelFlush": false, "labelOverlap": false}},
  "y": {"field": "y", "type": "quantitative", "scale": {"domain": [0, 1], "nice": false},
        "axis": {"values": [0, 0.5, 1], "offset": -439, "labelExpr": "replace(format(datum.value, '~g'), '.', ',')", "title": null, "grid": false, "domainColor": "black", "domainWidth": 1, "tickColor": "#555555", "tickWidth": 1.2, "tickSize": 8, "labelFont": "Liberation Sans", "labelFontSize": 27, "labelColor": "#222222", "labelPadding": 12, "labelOverlap": false, "labelFlush": false}}
 }},
{"data": {"name": "expB"}, "mark": {"type": "point", "filled": true, "size": 28, "opacity": 1, "strokeWidth": 0},
 "encoding": {
  "x": {"field": "x", "type": "quantitative"},
  "y": {"field": "y", "type": "quantitative"},
  "color": {"datum": "Experimental", "scale": {"domain": ["Simulation", "Experimental"], "range": ["#e8161e", "#000000"]},
            "legend": {"title": null, "orient": "none", "legendX": 689.5, "legendY": 41, "symbolSize": 225, "symbolOpacity": 1, "symbolStrokeWidth": 0, "labelFont": "Liberation Serif", "labelFontSize": 22, "labelColor": "black", "labelOffset": 21.5, "rowPadding": 2, "padding": 0}},
  "shape": {"datum": "Experimental", "scale": {"domain": ["Simulation", "Experimental"], "range": ["M-2.93,-0.17H2.93V0.17H-2.93Z", "M0,-1.3L1,1.3L-1,1.3Z"]},
            "legend": {"title": null, "orient": "none", "legendX": 689.5, "legendY": 41, "symbolSize": 225, "symbolOpacity": 1, "symbolStrokeWidth": 0, "labelFont": "Liberation Serif", "labelFontSize": 22, "labelColor": "black", "labelOffset": 21.5, "rowPadding": 2, "padding": 0}}
 }},
{"data": {"values": [{}]}, "mark": {"type": "text", "text": "I", "font": "Liberation Serif", "fontSize": 32, "align": "left", "baseline": "alphabetic", "color": "black"},
 "encoding": {"x": {"datum": 0.067, "type": "quantitative"}, "y": {"datum": 1.002, "type": "quantitative"}}},
{"data": {"values": [{}]}, "mark": {"type": "text", "text": "g", "font": "Liberation Serif", "fontSize": 28, "align": "left", "baseline": "alphabetic", "color": "black"},
 "encoding": {"x": {"datum": 0.102, "type": "quantitative"}, "y": {"datum": 0.996, "type": "quantitative"}}},
{"data": {"values": [{}]}, "mark": {"type": "text", "text": "s(nm", "font": "Liberation Serif", "fontSize": 30, "align": "left", "baseline": "alphabetic", "color": "black"},
 "encoding": {"x": {"datum": 1.218, "type": "quantitative"}, "y": {"datum": 0.154, "type": "quantitative"}}},
{"data": {"values": [{}]}, "mark": {"type": "text", "text": "-1", "font": "Liberation Serif", "fontSize": 16, "align": "left", "baseline": "alphabetic", "color": "black"},
 "encoding": {"x": {"datum": 1.4225, "type": "quantitative"}, "y": {"datum": 0.192, "type": "quantitative"}}},
{"data": {"values": [{}]}, "mark": {"type": "text", "text": ")", "font": "Liberation Serif", "fontSize": 30, "align": "left", "baseline": "alphabetic", "color": "black"},
 "encoding": {"x": {"datum": 1.469, "type": "quantitative"}, "y": {"datum": 0.154, "type": "quantitative"}}}
]
}
]
}
